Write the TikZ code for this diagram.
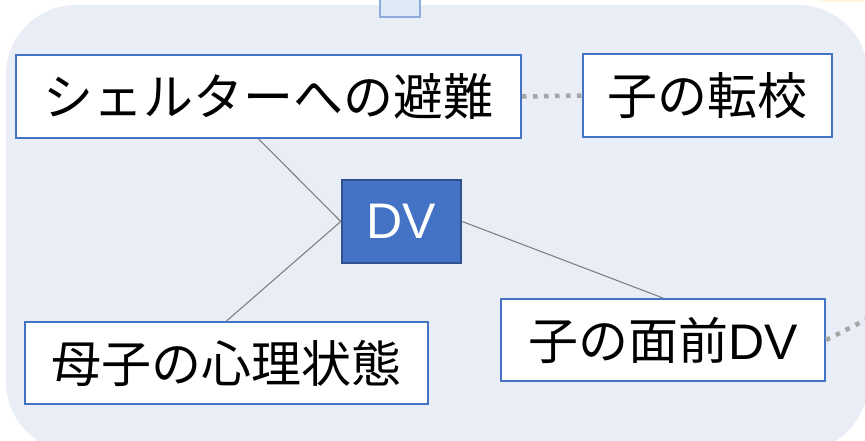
\documentclass[tikz,border=0pt]{standalone}
\usepackage{fontspec}
\setmainfont{Noto Sans CJK JP}
\newfontfamily\latinfont{Liberation Sans}
\definecolor{panel}{RGB}{233,237,246}
\definecolor{accent}{RGB}{68,114,196}
\definecolor{accentdark}{RGB}{47,82,143}
\definecolor{tabfill}{RGB}{221,233,247}
\definecolor{tabline}{RGB}{143,170,220}
\definecolor{note}{RGB}{255,244,222}

\begin{document}
\begin{tikzpicture}[x=1pt, y=-1pt,
  box/.style={draw=accent, line width=2pt, fill=white, inner sep=0pt, minimum height=83pt, font=\fontsize{50}{60}\selectfont},
  link/.style={draw=gray, line width=1.1pt},
  dotlink/.style={draw=black!35, line width=4.5pt, dash pattern=on 4.5pt off 6.5pt}]
  \useasboundingbox (0, 0) rectangle (865, 440);
  \clip (0, 0) rectangle (865, 440);
  \fill[note, rounded corners=40pt] (790, -200) rectangle (1000, 2);
  \fill[panel, rounded corners=70pt] (6, 5) rectangle (868, 452);
  \draw[tabline, fill=tabfill, line width=2.5pt] (380, -10) rectangle (420, 17);
  \node[box, minimum width=505pt] (shelter) at (268.5, 96.5) {シェルターへの避難};
  \node[box, minimum width=249pt] (school) at (707.5, 95.5) {子の転校};
  \node[box, fill=accent, draw=accentdark, line width=2.5pt, text=white, minimum width=119pt] (dv) at (401.5, 221.5) {\latinfont DV};
  \node[box, minimum width=403pt, minimum height=82pt] (mind) at (226.5, 363) {母子の心理状態};
  \node[box, minimum width=324pt, minimum height=82pt] (witness) at (663, 340) {子の面前{\latinfont DV}};
  \coordinate (offpage) at (885, 310);
  \draw[link] (shelter.257) -- (dv.west) -- (mind.north);
  \draw[link] (dv.east) -- (witness.north);
  \draw[dotlink] (shelter.east) -- (school.west);
  \draw[dotlink] (witness.east) -- (offpage);
\end{tikzpicture}
\end{document}
